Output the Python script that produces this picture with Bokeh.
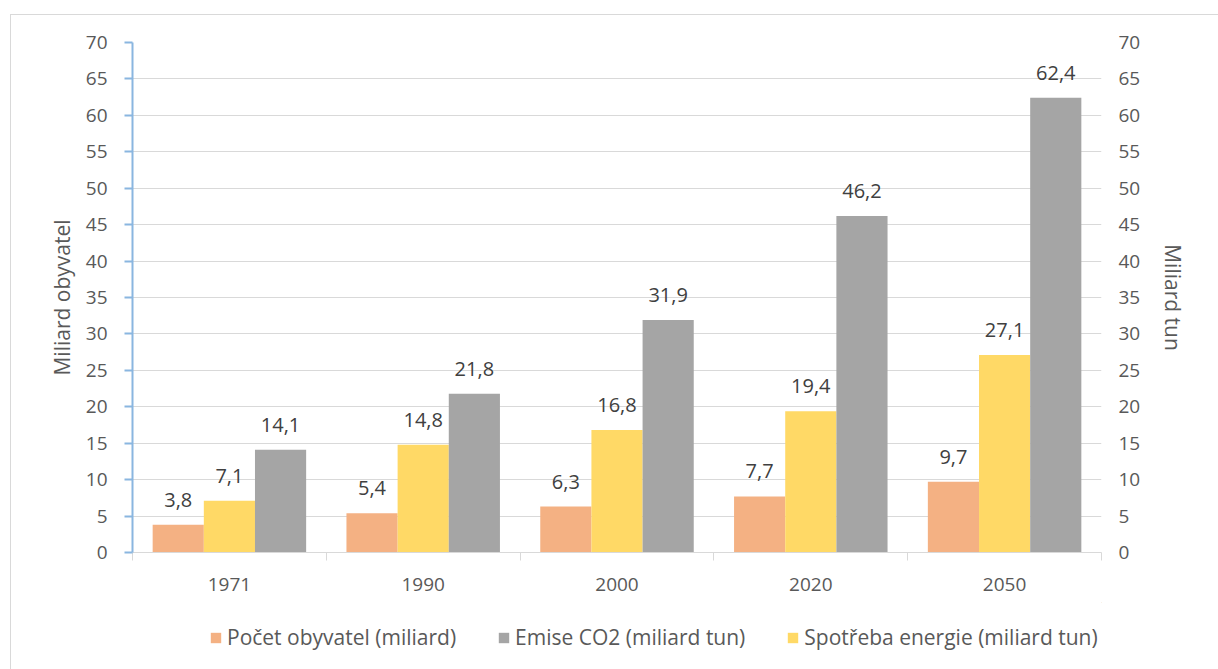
from bokeh.plotting import figure
from bokeh.layouts import column
from bokeh.models import (ColumnDataSource, Range1d, LinearAxis, FixedTicker,
                          LabelSet, Legend, LegendItem)
from bokeh.core.properties import value
from bokeh.embed import file_html
from bokeh.resources import INLINE

# ---- data ----
categories = ["1971", "1990", "2000", "2020", "2050"]
populace = [3.8, 5.4, 6.3, 7.7, 9.7]          # Počet obyvatel (miliard)
energie = [7.1, 14.8, 16.8, 19.4, 27.1]       # Spotřeba energie (miliard tun)
emise = [14.1, 21.8, 31.9, 46.2, 62.4]        # Emise CO2 (miliard tun)
y_ticks = [0, 5, 10, 15, 20, 25, 30, 35, 40, 45, 50, 55, 60, 65, 70]

series_names = ["Počet obyvatel (miliard)", "Spotřeba energie (miliard tun)", "Emise CO2 (miliard tun)"]
series_values = [populace, energie, emise]
legend_order = [0, 2, 1]
colors = ["#F4B183", "#FFD966", "#A5A5A5"]
offsets = [-0.264, 0.0, 0.264]
bar_w = 0.264

FONT = "Open Sans"
TXT = "#595959"

p = figure(width=1212, height=587, x_range=Range1d(0, len(categories)), y_range=Range1d(0, 70),
           output_backend="svg", toolbar_location=None,
           min_border_left=121, min_border_right=122, min_border_top=27, min_border_bottom=50)
p.outline_line_color = None
p.background_fill_color = "white"
p.border_fill_color = "white"

p.extra_y_ranges = {"right": Range1d(0, 70)}

for name, vals, col, off in zip(series_names, series_values, colors, offsets):
    xs = [i + 0.5 + off for i in range(len(categories))]
    labels = [f"{v:.1f}".replace(".", ",") for v in vals]
    src = ColumnDataSource(dict(x=xs, top=vals, label=labels))
    p.vbar(x="x", top="top", width=bar_w, source=src, fill_color=col, line_color=None)
    ls = LabelSet(x="x", y="top", text="label", source=src, text_align="center",
                  text_baseline="bottom", y_offset=18, text_color="#404040",
                  text_font_size="20px", text_font=value(FONT))
    p.add_layout(ls)

# x axis
xa = p.xaxis[0]
xa.ticker = FixedTicker(ticks=[i + 0.5 for i in range(len(categories))],
                        minor_ticks=list(range(len(categories) + 1)))
xa.major_label_overrides = {i + 0.5: c for i, c in enumerate(categories)}
xa.major_tick_line_color = None
xa.minor_tick_line_color = "#D9D9D9"
xa.minor_tick_in = 0
xa.minor_tick_out = 8
xa.axis_line_color = "#D9D9D9"
xa.axis_line_width = 1
xa.major_label_text_font = FONT
xa.major_label_text_font_size = "19px"
xa.major_label_text_color = TXT
xa.major_label_standoff = 17

# left axis
ya = p.yaxis[0]
ya.ticker = FixedTicker(ticks=y_ticks)
ya.axis_line_color = "#8AB6E0"
ya.axis_line_width = 2
ya.major_tick_line_color = "#8AB6E0"
ya.major_tick_line_width = 2
ya.major_tick_in = 0
ya.major_tick_out = 8
ya.minor_tick_line_color = None
ya.major_label_text_font = FONT
ya.major_label_text_font_size = "19px"
ya.major_label_text_color = TXT
ya.major_label_standoff = 17
ya.axis_label = "Miliard obyvatel"
ya.axis_label_text_font = FONT
ya.axis_label_text_font_size = "21px"
ya.axis_label_text_font_style = "normal"
ya.axis_label_text_color = TXT
ya.axis_label_standoff = 7

# right axis
ra = LinearAxis(y_range_name="right", ticker=FixedTicker(ticks=y_ticks))
ra.axis_line_color = None
ra.major_tick_line_color = None
ra.minor_tick_line_color = None
ra.major_label_text_font = FONT
ra.major_label_text_font_size = "19px"
ra.major_label_text_color = TXT
ra.major_label_standoff = 11
ra.axis_label = "Miliard tun"
ra.axis_label_text_font = FONT
ra.axis_label_text_font_size = "21px"
ra.axis_label_text_font_style = "normal"
ra.axis_label_text_color = TXT
ra.axis_label_standoff = 16
p.add_layout(ra, "right")

p.xgrid.grid_line_color = None
p.ygrid.grid_line_color = "#D9D9D9"
p.ygrid.grid_line_width = 1

# legend strip below the chart
q = figure(width=1212, height=70, x_range=Range1d(0, 1), y_range=Range1d(0, 1),
           output_backend="svg", toolbar_location=None,
           x_axis_location=None, y_axis_location=None,
           min_border=0)
q.outline_line_color = None
q.xgrid.grid_line_color = None
q.ygrid.grid_line_color = None
q.background_fill_color = "white"
q.border_fill_color = "white"
dummies = []
for col in colors:
    # off-range placeholder glyphs that only carry the legend colour
    dummies.append(q.vbar(x=[5], top=[6], bottom=[5], width=0.1, fill_color=col, line_color=None))
legend = Legend(items=[LegendItem(label=series_names[i], renderers=[dummies[i]]) for i in legend_order],
                orientation="horizontal", location=(77, 21))
legend.label_text_font = FONT
legend.label_text_font_size = "21px"
legend.label_text_color = TXT
legend.glyph_width = 13
legend.glyph_height = 13
legend.label_standoff = 5
legend.spacing = 41
legend.border_line_color = None
legend.background_fill_alpha = 0
legend.padding = 4
legend.margin = 0
q.add_layout(legend, "center")

layout = column(p, q, spacing=0)
layout.margin = (14, 0, 0, 10)
layout.styles = {"border": "1px solid #D9D9D9"}

open("out.html", "w").write(file_html(layout, INLINE))
